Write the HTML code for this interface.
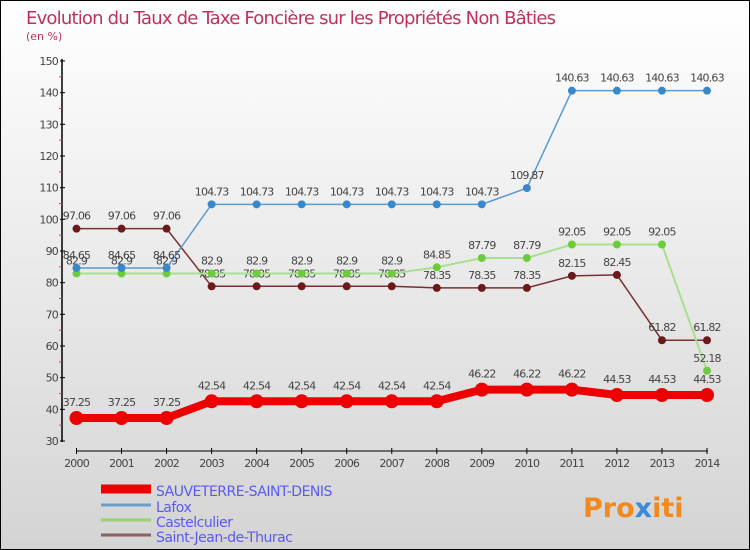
<!DOCTYPE html>
<html><head><meta charset="utf-8"><style>
body{margin:0;}
#c{width:748px;height:548px;border:1px solid #000;background:linear-gradient(#fff,#d4d4d4);position:relative;font-family:"DejaVu Sans","Liberation Sans",sans-serif;overflow:hidden}
svg text{font-family:"DejaVu Sans","Liberation Sans",sans-serif}
</style></head><body>
<div id="c">
<svg id="s" width="748" height="548">
<text x="25" y="23" font-size="18" letter-spacing="-0.8" fill="#c0305a">Evolution du Taux de Taxe Foncière sur les Propriétés Non Bâties</text>
<text x="25" y="39" font-size="11" fill="#c0305a">(en %)</text>
<text x="582" y="516" font-size="27" font-weight="bold" fill="#f08a20">Pro<tspan fill="#3a8ad8">x</tspan>iti</text>
</svg></div>
<script>
const years=[2000,2001,2002,2003,2004,2005,2006,2007,2008,2009,2010,2011,2012,2013,2014];
const ssd=[37.25,37.25,37.25,42.54,42.54,42.54,42.54,42.54,42.54,46.22,46.22,46.22,44.53,44.53,44.53];
const lafox=[84.65,84.65,84.65,104.73,104.73,104.73,104.73,104.73,104.73,104.73,109.87,140.63,140.63,140.63,140.63];
const castel=[82.9,82.9,82.9,82.9,82.9,82.9,82.9,82.9,84.85,87.79,87.79,92.05,92.05,92.05,52.18];
const sjt=[97.06,97.06,97.06,78.85,78.85,78.85,78.85,78.85,78.35,78.35,78.35,82.15,82.45,61.82,61.82];
const yTicks=[30,40,50,60,70,80,90,100,110,120,130,140,150];
const names=["SAUVETERRE-SAINT-DENIS","Lafox","Castelculier","Saint-Jean-de-Thurac"];
const s=document.getElementById('s');const NS='http://www.w3.org/2000/svg';
const X=i=>75.5+i*(706-75.5)/14, Y=v=>440-(v-30)*(380/120);
function el(t,a,p){const e=document.createElementNS(NS,t);for(const k in a)e.setAttribute(k,a[k]);(p||s).appendChild(e);return e;}
const ax=el('line',{x1:61,y1:58,x2:61,y2:441,stroke:'#000','stroke-width':1.5});

yTicks.forEach(v=>{el('line',{x1:59,x2:64,y1:Y(v),y2:Y(v),stroke:'#000'});
if(v<150)el('line',{x1:58,x2:61,y1:Y(v+5),y2:Y(v+5),stroke:'#f33'});
const t=el('text',{x:57,y:Y(v)+4,'font-size':11,fill:'#444','text-anchor':'end','letter-spacing':'-0.8'});t.textContent=v;
});
const xa=el('line',{x1:75,y1:450,x2:707,y2:450,stroke:'#000'});

years.forEach((y,i)=>{el('line',{x1:X(i),x2:X(i),y1:447,y2:453,stroke:'#000'});
const t=el('text',{x:X(i),y:466,'font-size':11,fill:'#444','text-anchor':'middle','letter-spacing':'-0.8'});t.textContent=y;
});
function series(d,col,dot,w,r,name){const g=el('g',{});
el('polyline',{points:d.map((v,i)=>X(i)+','+Y(v)).join(' '),fill:'none',stroke:col,'stroke-width':w},g);
d.forEach((v,i)=>{const c=el('circle',{cx:X(i),cy:Y(v),r:r,fill:dot},g);
const t=el('text',{x:X(i),y:Y(v)-(r+5),'font-size':11,fill:'#444','text-anchor':'middle','letter-spacing':'-0.8'},g);t.textContent=v;});}
series(sjt,'#7a3030','#6a1a1a',1.5,4,'series-saint-jean-de-thurac');
series(castel,'#a8e090','#6ccc3a',2,4,'series-castelculier');
series(lafox,'#5a9ad0','#3a88cc',1.5,4,'series-lafox');
series(ssd,'#e00','#e00',8,7,'series-sauveterre');
const lc=['#e00','#6aa0c8','#9ad070','#906060'],lw=[9,3,3,3],ly=[492,508,523,538];
names.forEach((n,i)=>{const g=el('g',{});
el('line',{x1:100,x2:150,y1:ly[i]-4,y2:ly[i]-4,stroke:lc[i],'stroke-width':lw[i]},g);
const t=el('text',{x:155,y:ly[i]+3,'font-size':14,fill:'#5a5af0','letter-spacing':'-0.5'},g);t.textContent=n;});
</script>
</body></html>
